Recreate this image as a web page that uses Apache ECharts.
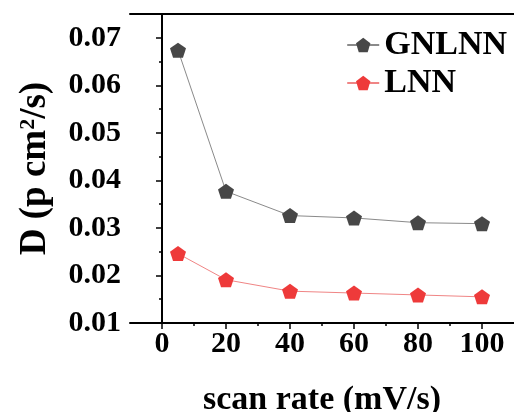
<!DOCTYPE html>
<html><head><meta charset="utf-8">
<script src="https://cdn.jsdelivr.net/npm/echarts@6/dist/echarts.min.js"></script>
<style>html,body{margin:0;padding:0;background:#fff}#c{width:514px;height:412px}</style>
</head><body><div id="c"></div>
<script>
const scanRate = [5, 20, 40, 60, 80, 100];
const gnlnn = [0.0674, 0.0377, 0.0326, 0.0321, 0.0311, 0.0309];
const lnn = [0.0246, 0.0191, 0.0167, 0.0163, 0.0159, 0.0155];
const seriesNames = ['GNLNN', 'LNN'];
const xMajorTicks = [0, 20, 40, 60, 80, 100];
const xMinorTicks = [10, 30, 50, 70, 90];

const pentagon = 'path://M0,-10 L9.51,-3.09 L5.88,8.09 L-5.88,8.09 L-9.51,-3.09 Z';
const font = 'Liberation Serif';
const chart = echarts.init(document.getElementById('c'));
chart.setOption({
  animation: false,
  backgroundColor: '#fff',
  grid: {left: 130, right: 0, top: 14, bottom: 89, containLabel: false, outerBoundsMode: 'none'},
  legend: {
    right: 2, top: 23, orient: 'vertical', itemGap: 4, itemWidth: 32, itemHeight: 18,
    textStyle: {fontFamily: font, fontWeight: 'bold', fontSize: 34, color: '#000'},
    data: seriesNames
  },
  xAxis: [{
    type: 'value', min: -10, max: 110, interval: 10,
    name: 'scan rate (mV/s)', nameLocation: 'middle', nameGap: 60,
    nameTextStyle: {fontFamily: font, fontWeight: 'bold', fontSize: 34, color: '#000'},
    axisLine: {show: true, lineStyle: {color: '#000', width: 2}},
    axisTick: {show: true, inside: false, length: 6, customValues: xMajorTicks, lineStyle: {color: '#000', width: 1.5}},
    axisLabel: {fontFamily: font, fontWeight: 'bold', fontSize: 30, color: '#000', margin: 6,
      customValues: xMajorTicks},
    splitLine: {show: false}
  }, {
    type: 'value', position: 'top', min: -10, max: 110,
    axisLine: {show: true, lineStyle: {color: '#000', width: 2}},
    axisTick: {show: false}, axisLabel: {show: false}, splitLine: {show: false}
  }, {
    type: 'value', position: 'bottom', min: -10, max: 110, interval: 10,
    axisLine: {show: false},
    axisTick: {show: true, inside: false, length: 3, customValues: xMinorTicks, lineStyle: {color: '#000', width: 1.5}},
    axisLabel: {show: false}, splitLine: {show: false}
  }],
  yAxis: {
    type: 'value', min: 0.01, max: 0.075, interval: 0.01,
    name: 'D (p cm{sup|2}/s)', nameLocation: 'middle', nameGap: 76,
    nameTextStyle: {fontFamily: font, fontWeight: 'bold', fontSize: 37, color: '#000',
      rich: {sup: {fontFamily: font, fontWeight: 'bold', fontSize: 22, color: '#000', verticalAlign: 'top', padding: [0, 0, 15, 0]}}},
    axisLine: {show: true, lineStyle: {color: '#000', width: 2}},
    axisTick: {show: true, inside: false, length: 6, lineStyle: {color: '#000', width: 1.5}},
    minorTick: {show: true, splitNumber: 2, length: 3, lineStyle: {color: '#000', width: 1.5}},
    axisLabel: {fontFamily: font, fontWeight: 'bold', fontSize: 30, color: '#000', margin: 9,
      showMaxLabel: false,
      formatter: v => v.toFixed(2)},
    splitLine: {show: false}
  },
  series: [{
    name: seriesNames[0], type: 'line',
    data: scanRate.map((x, i) => [x, gnlnn[i]]),
    symbol: pentagon, symbolSize: [16, 15],
    itemStyle: {color: '#474747'},
    lineStyle: {color: '#8a8a8a', width: 1}
  }, {
    name: seriesNames[1], type: 'line',
    data: scanRate.map((x, i) => [x, lnn[i]]),
    symbol: pentagon, symbolSize: [16, 15],
    itemStyle: {color: '#ee3a3a'},
    lineStyle: {color: '#f08585', width: 1}
  }]
});
</script></body></html>
